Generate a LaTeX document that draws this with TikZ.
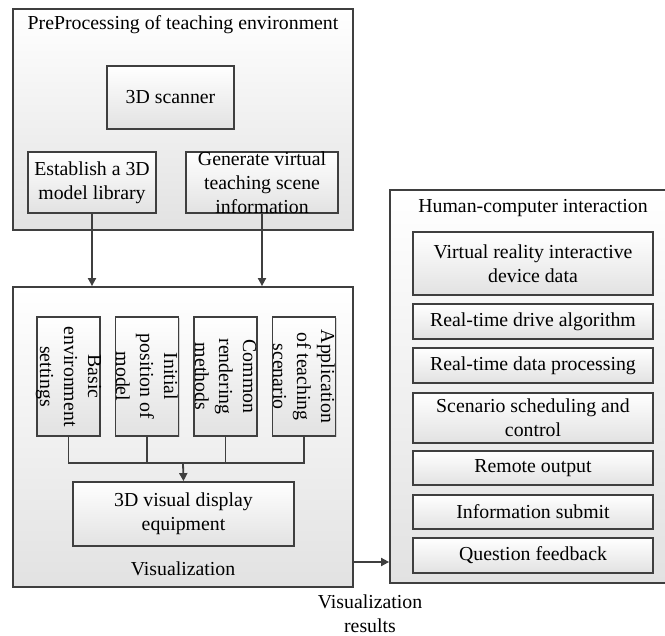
\documentclass[tikz,border=0pt]{standalone}
\usepackage{fontspec}
\setmainfont{Liberation Serif}
\usepackage{tikz}
\usetikzlibrary{shadows,calc}
\usetikzlibrary{arrows.meta, positioning}
\definecolor{colorLine}{HTML}{3f3f3f}
\definecolor{colorShade}{HTML}{e2e2e2}

\begin{document}
\begin{tikzpicture}[x=1pt,y=-1pt,
        font=\fontsize{19.8}{24}\selectfont,
        frame/.style={draw=colorLine,line width=1.8pt,top color=white,bottom color=colorShade,
            drop shadow={shadow xshift=1.2pt,shadow yshift=-1.2pt,fill=black!30},
            inner sep=0pt,align=center},
        tag/.style={inner sep=0pt,align=center},
        link/.style={draw=colorLine,line width=1.8pt},
        flow/.style={link,-{Triangle[length=8pt,width=8pt]}}]
    \useasboundingbox (0,0) rectangle (665,636);
    % preprocessing
    \node[frame,minimum width=340,minimum height=221] (pre) at (183,119.5) {};
    \node[tag] (preTitle) at (183,25) {PreProcessing of teaching environment};
    \node[frame,minimum width=127,minimum height=63] (scan) at (170.5,97.5) {3D scanner};
    \node[frame,minimum width=128,minimum height=61] (lib) at (92,182.5) {Establish a 3D\\model library};
    \node[frame,minimum width=152,minimum height=61] (gen) at (262,182.5) {};
    \node[tag] (genText) at (gen) {Generate virtual\\teaching scene\\information};
    % visualization
    \node[frame,minimum width=340,minimum height=300] (vis) at (183,437) {};
    \foreach \i/\x/\txt in {1/68.5/{Basic\\environment\\settings},
                            2/147/{Initial\\position of\\model},
                            3/225.5/{Common\\rendering\\methods},
                            4/304/{Application\\of teaching\\scenario}}{
        \node[frame,minimum width=63,minimum height=119] (b\i) at (\x,376.5) {};
        \node[tag,rotate=-90] (b\i t) at (b\i) {\txt};
    }
    \node[frame,minimum width=221,minimum height=64] (disp) at (183.5,514) {3D visual display\\equipment};
    \node[tag] (visTitle) at (183,569) {Visualization};
    \coordinate (join) at (183,463);
    \draw[link] (b1.south) |- (join) -| (b4.south);
    \draw[link] (b2.south) -- (b2.south |- join);
    \draw[link] (b3.south) -- (b3.south |- join);
    \draw[flow] (join) -- (disp.north);
    \draw[flow] (lib.south) -- (lib.south |- vis.north);
    \draw[flow] (gen.south) -- (gen.south |- vis.north);
    % human-computer interaction
    \node[frame,minimum width=280,minimum height=393] (hci) at (530,386.5) {};
    \node[tag] (hciTitle) at (533,208) {Human-computer interaction};
    \foreach \j/\y/\h/\txt in {1/263.5/63/{Virtual reality interactive\\device data},
                               2/321.5/35/{Real-time drive algorithm},
                               3/365.5/35/{Real-time data processing},
                               4/418/50/{Scenario scheduling and\\control},
                               5/468/34/{Remote output},
                               6/512/34/{Information submit},
                               7/555.5/35/{Question feedback}}{
        \node[frame,minimum width=240,minimum height=\h] (r\j) at (533,\y) {\txt};
    }
    \coordinate (res) at (370,562);
    \draw[flow] (vis.east |- res) -- (hci.west |- res);
    \node[tag] (resText) at (370,614) {Visualization\\results};
\end{tikzpicture}
\end{document}
